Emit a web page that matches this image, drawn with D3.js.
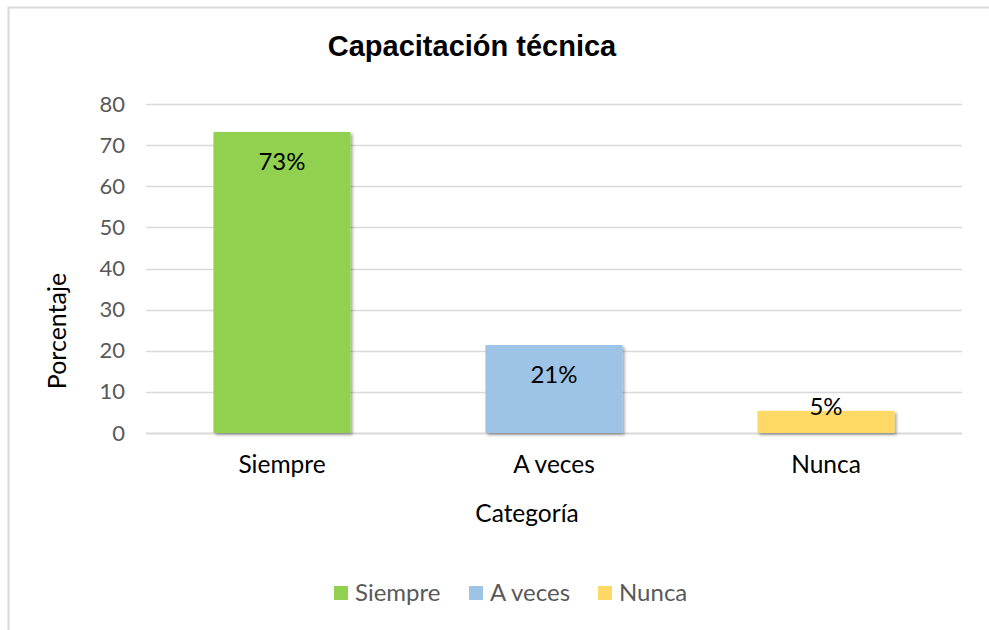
<!DOCTYPE html>
<html>
<head>
<meta charset="utf-8">
<script src="https://cdn.jsdelivr.net/npm/d3@7"></script>
<style>
  body { margin: 0; background: #fff; }
  svg { display: block; }
</style>
</head>
<body>
<div id="chart"></div>
<script>
const categories = ['Siempre', 'A veces', 'Nunca'];
const values = [73.2, 21.4, 5.4];
const labels = ['73%', '21%', '5%'];
const colors = ['#92D050', '#9DC3E6', '#FFD966'];
const yTicks = [0, 10, 20, 30, 40, 50, 60, 70, 80];

const W = 989, H = 630;
const margin = { top: 104, right: 27, bottom: 197, left: 146 };
const width = W - margin.left - margin.right;
const height = H - margin.top - margin.bottom;
const bodyFont = 'Lato, "Open Sans", sans-serif';

const svg = d3.select('#chart').append('svg')
    .attr('width', W)
    .attr('height', H);

// sombra suau de les barres
const defs = svg.append('defs');
const f = defs.append('filter').attr('id', 'shadow').attr('x', '-10%').attr('y', '-10%').attr('width', '130%').attr('height', '130%');
f.append('feDropShadow').attr('dx', 2).attr('dy', 2).attr('stdDeviation', 1.8).attr('flood-color', '#000').attr('flood-opacity', 0.35);

// marc del gràfic
svg.append('path')
    .attr('d', `M8.5,${H} V7.5 H${W}`)
    .attr('fill', 'none')
    .attr('stroke', '#d9d9d9')
    .attr('stroke-width', 2);

svg.append('text')
    .attr('x', 472).attr('y', 56)
    .attr('text-anchor', 'middle')
    .attr('font-family', '"Liberation Sans", Arial, sans-serif')
    .attr('font-weight', 'bold')
    .attr('font-size', 29)
    .attr('fill', '#000')
    .text('Capacitación técnica');

const g = svg.append('g').attr('transform', `translate(${margin.left},${margin.top})`);

const x = d3.scaleBand().domain(categories).range([0, width]).paddingInner(0.496).paddingOuter(0.248);
const y = d3.scaleLinear().domain([0, 80]).range([height, 0]);

// línies de graella
g.selectAll('line.grid')
    .data(yTicks)
    .enter().append('line')
    .attr('class', 'grid')
    .attr('x1', 0).attr('x2', width)
    .attr('y1', d => Math.round(y(d)) + 0.5)
    .attr('y2', d => Math.round(y(d)) + 0.5)
    .attr('stroke', '#d9d9d9')
    .attr('stroke-width', d => d === 0 ? 2 : 1.5);

const yAxis = g.append('g').call(d3.axisLeft(y).tickValues(yTicks).tickSize(0).tickPadding(21));
yAxis.select('.domain').remove();
yAxis.selectAll('text')
    .attr('font-family', bodyFont)
    .attr('font-size', 22)
    .attr('fill', '#595959');

const xAxis = g.append('g').attr('transform', `translate(0,${height})`)
    .call(d3.axisBottom(x).tickSize(0).tickPadding(23));
xAxis.select('.domain').remove();
xAxis.selectAll('text')
    .attr('font-family', bodyFont)
    .attr('font-size', 24.5)
    .attr('fill', '#000');

g.selectAll('rect.bar')
    .data(values)
    .enter().append('rect')
    .attr('class', 'bar')
    .attr('x', (d, i) => x(categories[i]))
    .attr('y', d => y(d))
    .attr('width', x.bandwidth())
    .attr('height', d => y(0) - y(d))
    .attr('fill', (d, i) => colors[i])
    .attr('filter', 'url(#shadow)');

g.selectAll('text.lbl')
    .data(values)
    .enter().append('text')
    .attr('class', 'lbl')
    .attr('x', (d, i) => x(categories[i]) + x.bandwidth() / 2)
    .attr('y', d => Math.min(y(d) + 30, y(0) - 26))
    .attr('dy', '0.35em')
    .attr('text-anchor', 'middle')
    .attr('font-family', bodyFont)
    .attr('font-size', 24)
    .attr('fill', '#000')
    .text((d, i) => labels[i]);

// títols dels eixos
svg.append('text')
    .attr('x', 527).attr('y', 513)
    .attr('dy', '0.35em')
    .attr('text-anchor', 'middle')
    .attr('font-family', bodyFont)
    .attr('font-size', 24.5)
    .attr('fill', '#000')
    .text('Categoría');

svg.append('text')
    .attr('transform', 'translate(57,331) rotate(-90)')
    .attr('dy', '0.35em')
    .attr('text-anchor', 'middle')
    .attr('font-family', bodyFont)
    .attr('font-size', 25)
    .attr('fill', '#000')
    .text('Porcentaje');

// llegenda
const legendX = [334, 469, 598];
const legend = svg.append('g');
categories.forEach((c, i) => {
    legend.append('rect')
        .attr('x', legendX[i]).attr('y', 586)
        .attr('width', 14).attr('height', 14)
        .attr('fill', colors[i]);
    legend.append('text')
        .attr('x', legendX[i] + 21).attr('y', 593)
        .attr('dy', '0.35em')
        .attr('font-family', bodyFont)
        .attr('font-size', 24)
        .attr('fill', '#595959')
        .text(c);
});
</script>
</body>
</html>
